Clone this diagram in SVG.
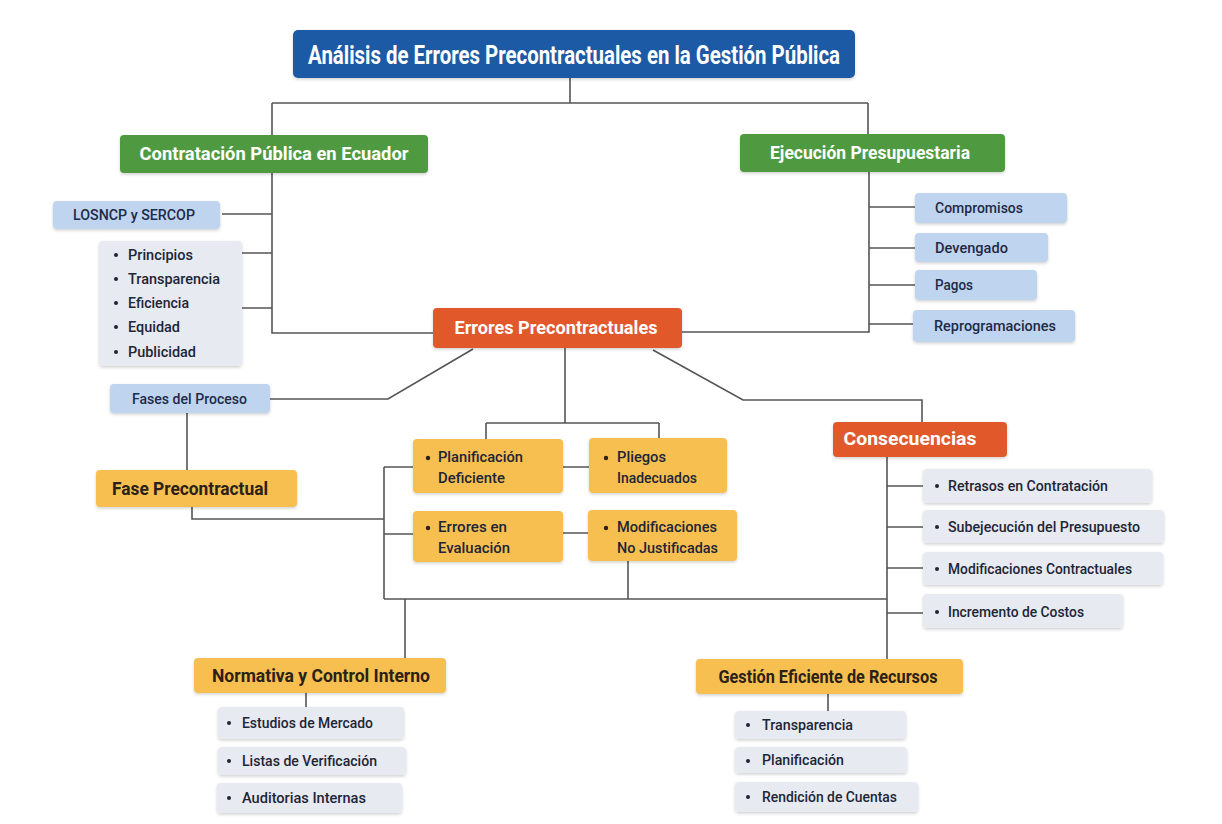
<svg xmlns="http://www.w3.org/2000/svg" width="1222" height="824" viewBox="0 0 1222 824">
<defs>
<filter id="sh" x="-10%" y="-20%" width="120%" height="150%">
<feDropShadow dx="0" dy="1.5" stdDeviation="1.5" flood-color="#000" flood-opacity="0.18"/>
</filter>
</defs>
<style>
text{font-family:Roboto,"Liberation Sans",sans-serif;dominant-baseline:central}
.hd{font-weight:700;fill:#fff;text-anchor:middle;font-size:18.5px}
.hy{font-weight:700;fill:#2a2118;text-anchor:middle;font-size:17.5px}
.it{font-weight:500;fill:#1e2536;font-size:15.5px}
.ib{font-weight:500;fill:#1e2a48;font-size:15.5px}
.blue{fill:#1f5aa5}
.green{fill:#4f9a40}
.orange{fill:#e1592b}
.yellow{fill:#f7bf50}
.lb{fill:#bfd5ef}
.gr{fill:#e7eaf1}
.box{filter:url(#sh)}
.con{fill:none;stroke:#555;stroke-width:1.6}
</style>
<rect width="1222" height="824" fill="#fff"/>

<g id="connectors">
<path class="con" d="M570 78V103M272 103H868M272 103V135M868 103V134"/>
<path class="con" d="M272 173V333H433M222 214H272M242 253H272M242 308H272"/>
<path class="con" d="M869 172V332H682M869 207H915M869 248H915M869 285H915M869 324H913"/>
<path class="con" d="M270 399H388L473 349M187 413V470"/>
<path class="con" d="M565 348V423M486 423H659M486 423V439M659 423V438"/>
<path class="con" d="M653 350L743 400H922V422"/>
<path class="con" d="M887 457V659M887 486H923M887 527H923M887 568H923M887 613H923"/>
<path class="con" d="M384 467V599M384 467H413M384 534H413M192 507V519H384"/>
<path class="con" d="M563 467H589M563 533H588M628 561V599M384 599H887M405 599V658"/>
<path class="con" d="M306 693V707M828 694V711"/>
</g>

<g id="title">
<rect class="box blue" x="293" y="30" width="562" height="48" rx="5"/>
<text class="hd" x="574" y="55" font-size="25" textLength="532" lengthAdjust="spacingAndGlyphs" style="font-size:25px">Análisis de Errores Precontractuales en la Gestión Pública</text>
</g>

<g id="contratacion">
<rect class="box green" x="120" y="135" width="308" height="38" rx="4"/>
<text class="hd" x="274" y="154" textLength="269" lengthAdjust="spacingAndGlyphs">Contratación Pública en Ecuador</text>
</g>

<g id="ejecucion">
<rect class="box green" x="740" y="134" width="265" height="38" rx="4"/>
<text class="hd" x="870" y="153" textLength="200" lengthAdjust="spacingAndGlyphs">Ejecución Presupuestaria</text>
</g>

<g id="losncp">
<rect class="box lb" x="53" y="201" width="167" height="28" rx="4"/>
<text class="ib" x="73" y="215" textLength="122" lengthAdjust="spacingAndGlyphs">LOSNCP y SERCOP</text>
</g>

<g id="principios">
<rect class="box gr" x="99" y="241" width="143" height="125" rx="4"/>
<circle cx="116" cy="255" r="2" fill="#1e2536"/><text class="it" x="128" y="255" textLength="65" lengthAdjust="spacingAndGlyphs">Principios</text>
<circle cx="116" cy="279" r="2" fill="#1e2536"/><text class="it" x="128" y="279" textLength="92" lengthAdjust="spacingAndGlyphs">Transparencia</text>
<circle cx="116" cy="303" r="2" fill="#1e2536"/><text class="it" x="128" y="303" textLength="61" lengthAdjust="spacingAndGlyphs">Eficiencia</text>
<circle cx="116" cy="327" r="2" fill="#1e2536"/><text class="it" x="128" y="327" textLength="52" lengthAdjust="spacingAndGlyphs">Equidad</text>
<circle cx="116" cy="352" r="2" fill="#1e2536"/><text class="it" x="128" y="352" textLength="68" lengthAdjust="spacingAndGlyphs">Publicidad</text>
</g>

<g id="fases">
<rect class="box lb" x="110" y="384" width="160" height="29" rx="4"/>
<text class="ib" x="132" y="399" textLength="115" lengthAdjust="spacingAndGlyphs">Fases del Proceso</text>
</g>

<g id="compromisos">
<rect class="box lb" x="915" y="193" width="152" height="30" rx="4"/>
<text class="ib" x="935" y="208" textLength="88" lengthAdjust="spacingAndGlyphs">Compromisos</text>
</g>
<g id="devengado">
<rect class="box lb" x="915" y="233" width="133" height="29" rx="4"/>
<text class="ib" x="935" y="248" textLength="73" lengthAdjust="spacingAndGlyphs">Devengado</text>
</g>
<g id="pagos">
<rect class="box lb" x="915" y="270" width="122" height="30" rx="4"/>
<text class="ib" x="935" y="285" textLength="38" lengthAdjust="spacingAndGlyphs">Pagos</text>
</g>
<g id="reprogramaciones">
<rect class="box lb" x="913" y="310" width="162" height="32" rx="4"/>
<text class="ib" x="934" y="326" textLength="122" lengthAdjust="spacingAndGlyphs">Reprogramaciones</text>
</g>

<g id="errores">
<rect class="box orange" x="433" y="308" width="249" height="40" rx="4"/>
<text class="hd" x="556" y="328" textLength="203" lengthAdjust="spacingAndGlyphs">Errores Precontractuales</text>
</g>

<g id="fase-precontractual">
<rect class="box yellow" x="96" y="470" width="201" height="37" rx="4"/>
<text class="hy" x="190" y="489" textLength="156" lengthAdjust="spacingAndGlyphs">Fase Precontractual</text>
</g>

<g id="planificacion-deficiente">
<rect class="box yellow" x="413" y="439" width="150" height="54" rx="4"/>
<circle cx="428" cy="458" r="2.2" fill="#2a2118"/>
<text class="it" x="438" y="457" textLength="85" lengthAdjust="spacingAndGlyphs">Planificación</text>
<text class="it" x="438" y="478" textLength="67" lengthAdjust="spacingAndGlyphs">Deficiente</text>
</g>
<g id="pliegos">
<rect class="box yellow" x="589" y="438" width="138" height="55" rx="4"/>
<circle cx="606" cy="458" r="2.2" fill="#2a2118"/>
<text class="it" x="617" y="457" textLength="49" lengthAdjust="spacingAndGlyphs">Pliegos</text>
<text class="it" x="617" y="478" textLength="80" lengthAdjust="spacingAndGlyphs">Inadecuados</text>
</g>
<g id="errores-evaluacion">
<rect class="box yellow" x="413" y="511" width="150" height="51" rx="4"/>
<circle cx="428" cy="528" r="2.2" fill="#2a2118"/>
<text class="it" x="438" y="527" textLength="69" lengthAdjust="spacingAndGlyphs">Errores en</text>
<text class="it" x="438" y="548" textLength="72" lengthAdjust="spacingAndGlyphs">Evaluación</text>
</g>
<g id="modificaciones">
<rect class="box yellow" x="588" y="510" width="149" height="51" rx="4"/>
<circle cx="606" cy="528" r="2.2" fill="#2a2118"/>
<text class="it" x="617" y="527" textLength="100" lengthAdjust="spacingAndGlyphs">Modificaciones</text>
<text class="it" x="617" y="548" textLength="101" lengthAdjust="spacingAndGlyphs">No Justificadas</text>
</g>

<g id="consecuencias">
<rect class="box orange" x="833" y="422" width="174" height="35" rx="4"/>
<text class="hd" x="910" y="439" textLength="133" lengthAdjust="spacingAndGlyphs">Consecuencias</text>
</g>
<g id="retrasos">
<rect class="box gr" x="923" y="469" width="229" height="34" rx="4"/>
<circle cx="937" cy="486" r="2" fill="#1e2536"/>
<text class="it" x="948" y="486" textLength="160" lengthAdjust="spacingAndGlyphs">Retrasos en Contratación</text>
</g>
<g id="subejecucion">
<rect class="box gr" x="923" y="510" width="241" height="33" rx="4"/>
<circle cx="937" cy="527" r="2" fill="#1e2536"/>
<text class="it" x="948" y="527" textLength="192" lengthAdjust="spacingAndGlyphs">Subejecución del Presupuesto</text>
</g>
<g id="modificaciones-contractuales">
<rect class="box gr" x="923" y="552" width="240" height="33" rx="4"/>
<circle cx="937" cy="569" r="2" fill="#1e2536"/>
<text class="it" x="948" y="569" textLength="184" lengthAdjust="spacingAndGlyphs">Modificaciones Contractuales</text>
</g>
<g id="incremento">
<rect class="box gr" x="923" y="594" width="200" height="34" rx="4"/>
<circle cx="937" cy="612" r="2" fill="#1e2536"/>
<text class="it" x="948" y="612" textLength="136" lengthAdjust="spacingAndGlyphs">Incremento de Costos</text>
</g>

<g id="normativa">
<rect class="box yellow" x="194" y="658" width="252" height="35" rx="4"/>
<text class="hy" x="321" y="676" textLength="218" lengthAdjust="spacingAndGlyphs">Normativa y Control Interno</text>
</g>
<g id="estudios">
<rect class="box gr" x="218" y="707" width="186" height="32" rx="4"/>
<circle cx="229" cy="723" r="2" fill="#1e2536"/>
<text class="it" x="242" y="723" textLength="131" lengthAdjust="spacingAndGlyphs">Estudios de Mercado</text>
</g>
<g id="listas">
<rect class="box gr" x="218" y="747" width="188" height="28" rx="4"/>
<circle cx="229" cy="761" r="2" fill="#1e2536"/>
<text class="it" x="242" y="761" textLength="135" lengthAdjust="spacingAndGlyphs">Listas de Verificación</text>
</g>
<g id="auditorias">
<rect class="box gr" x="217" y="783" width="185" height="30" rx="4"/>
<circle cx="229" cy="798" r="2" fill="#1e2536"/>
<text class="it" x="242" y="798" textLength="124" lengthAdjust="spacingAndGlyphs">Auditorias Internas</text>
</g>

<g id="gestion">
<rect class="box yellow" x="696" y="659" width="267" height="35" rx="4"/>
<text class="hy" x="828" y="677" textLength="219" lengthAdjust="spacingAndGlyphs">Gestión Eficiente de Recursos</text>
</g>
<g id="transparencia">
<rect class="box gr" x="735" y="711" width="171" height="28" rx="4"/>
<circle cx="748" cy="725" r="2" fill="#1e2536"/>
<text class="it" x="762" y="725" textLength="91" lengthAdjust="spacingAndGlyphs">Transparencia</text>
</g>
<g id="planificacion">
<rect class="box gr" x="735" y="747" width="172" height="26" rx="4"/>
<circle cx="748" cy="761" r="2" fill="#1e2536"/>
<text class="it" x="762" y="760" textLength="82" lengthAdjust="spacingAndGlyphs">Planificación</text>
</g>
<g id="rendicion">
<rect class="box gr" x="735" y="782" width="183" height="30" rx="4"/>
<circle cx="748" cy="797" r="2" fill="#1e2536"/>
<text class="it" x="762" y="797" textLength="135" lengthAdjust="spacingAndGlyphs">Rendición de Cuentas</text>
</g>
</svg>
